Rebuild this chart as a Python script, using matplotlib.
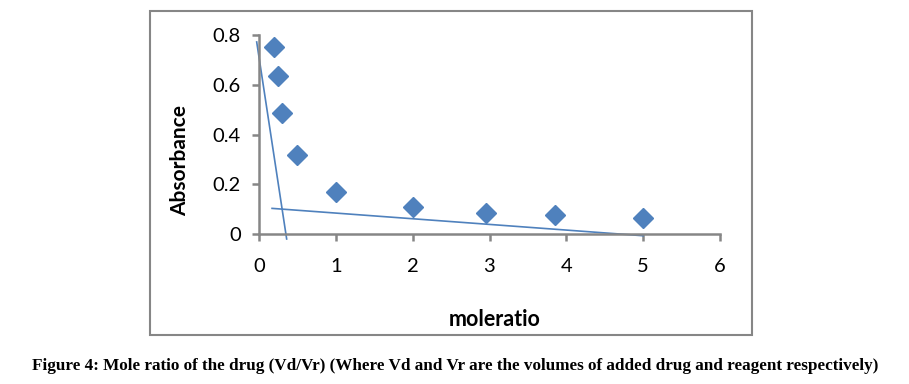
import matplotlib.pyplot as plt
from matplotlib.patches import Rectangle

# data
mole_ratio = [0.2, 0.25, 0.3, 0.5, 1.0, 2.0, 2.95, 3.85, 5.0]
absorbance = [0.752, 0.635, 0.487, 0.318, 0.167, 0.11, 0.085, 0.075, 0.065]

# two fitted lines (end points)
fit1_x = [-0.03, 0.36]
fit1_y = [0.772, -0.02]
fit2_x = [0.17, 5.0]
fit2_y = [0.103, -0.007]

xticks = [0, 1, 2, 3, 4, 5, 6]
yticks = [0, 0.2, 0.4, 0.6, 0.8]
ytick_labels = ['0', '0.2', '0.4', '0.6', '0.8']

blue = '#4F81BD'
grey = '#868686'

fig = plt.figure(figsize=(9.09, 3.84), dpi=100)
ax = fig.add_axes([259 / 909, 1 - 234 / 384, (720 - 259) / 909, (234 - 35) / 384])

ax.plot(fit1_x, fit1_y, color=blue, lw=1.2, clip_on=False)
ax.plot(fit2_x, fit2_y, color=blue, lw=1.2, clip_on=False)
ax.plot(mole_ratio, absorbance, 'D', color=blue, markersize=10, clip_on=False)

ax.set_xlim(0, 6)
ax.set_ylim(0, 0.8)
ax.set_xticks(xticks)
ax.set_yticks(yticks)
ax.set_yticklabels(ytick_labels)
for s in ['top', 'right']:
    ax.spines[s].set_visible(False)
for s in ['left', 'bottom']:
    ax.spines[s].set_color(grey)
    ax.spines[s].set_linewidth(1.8)
ax.tick_params(colors=grey, width=1.8, length=5, direction='out', labelcolor='black',
               labelsize=14.5)
ax.tick_params(axis='x', pad=12)
ax.tick_params(axis='y', pad=8)
for lab in ax.get_xticklabels() + ax.get_yticklabels():
    lab.set_family('Lato')

fig.text(180 / 909, 1 - 160 / 384, 'Absorbance', rotation=90, ha='center', va='center',
         fontsize=15, fontweight='bold', family='Lato')
fig.text(495 / 909, 1 - 320 / 384, 'moleratio', ha='center', va='center',
         fontsize=15.5, fontweight='bold', family='Lato')

# outer chart border
fig.patches.append(Rectangle((150 / 909, 1 - 335 / 384), (752 - 150) / 909, (335 - 11) / 384,
                             transform=fig.transFigure, fill=False, edgecolor=grey, lw=1.5))

fig.text(455 / 909, 1 - 366 / 384,
         'Figure 4: Mole ratio of the drug (Vd/Vr) (Where Vd and Vr are the volumes of added drug and reagent respectively)',
         ha='center', va='center', fontsize=12.3, fontweight='bold', family='Liberation Serif')

fig.savefig('out.png', dpi=100)
